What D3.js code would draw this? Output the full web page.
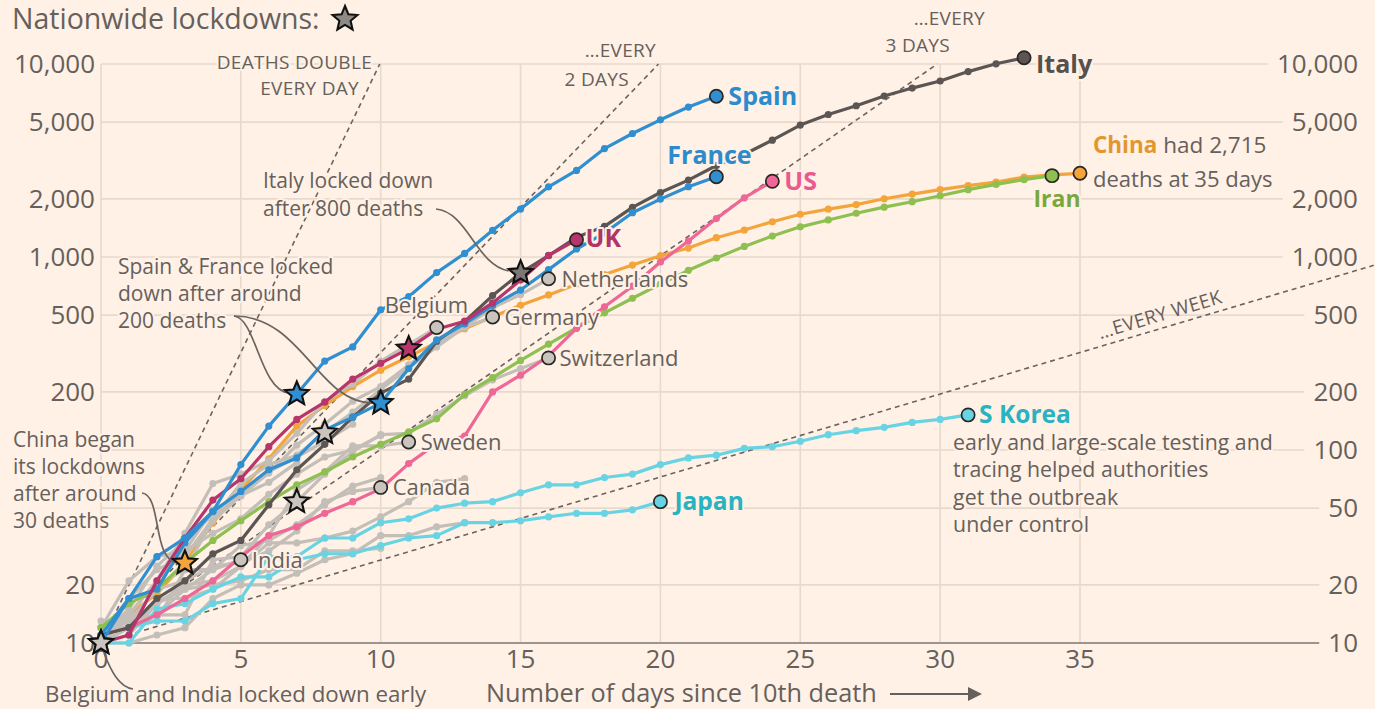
<!DOCTYPE html>
<html><head><meta charset="utf-8">
<script src="https://cdn.jsdelivr.net/npm/d3@7"></script>
<style>
html,body{margin:0;padding:0;background:#fff1e5;}
svg{display:block;font-family:"Open Sans",sans-serif;}
</style></head><body>
<svg id="c" width="1375" height="709"></svg>
<script>
// ---------------- DATA (cumulative deaths by days since 10th death) ----------------
const dayTicks = [0, 5, 10, 15, 20, 25, 30, 35];
const valueTicks = [10, 20, 50, 100, 200, 500, 1000, 2000, 5000, 10000];
const leftHiddenTicks = [50, 100]; // covered by the China annotation on the left

const spain = [10, 17, 28, 35, 48, 84, 133, 195, 289, 342, 533, 623, 830, 1043, 1375, 1772, 2311, 2808, 3647, 4365, 5138, 5982, 6803];
const france = [11, 17, 19, 33, 48, 61, 79, 91, 127, 148, 175, 264, 372, 450, 562, 674, 860, 1100, 1331, 1696, 1995, 2314, 2606];
const italy = [11, 12, 17, 21, 29, 34, 52, 79, 107, 148, 197, 233, 366, 463, 631, 827, 1016, 1266, 1441, 1809, 2158, 2503, 2978, 3405, 4032, 4825, 5476, 6077, 6820, 7503, 8165, 9134, 10023, 10779];
const uk = [10, 11, 21, 35, 55, 71, 104, 144, 177, 233, 281, 335, 422, 465, 578, 759, 1019, 1228];
const us = [11, 12, 14, 17, 21, 28, 36, 40, 47, 54, 63, 85, 108, 118, 200, 244, 307, 427, 552, 706, 942, 1209, 1581, 2026, 2467];
const china = [10, 14, 18, 26, 42, 62, 90, 133, 170, 213, 259, 304, 361, 425, 490, 562, 636, 722, 811, 908, 1016, 1113, 1259, 1380, 1523, 1665, 1770, 1868, 2004, 2118, 2236, 2345, 2442, 2592, 2663, 2715];
const iran = [12, 16, 19, 26, 34, 43, 54, 66, 77, 92, 107, 124, 145, 194, 237, 291, 354, 429, 514, 611, 724, 853, 988, 1135, 1284, 1433, 1556, 1685, 1812, 1934, 2077, 2234, 2378, 2517, 2640];
const skorea = [11, 12, 13, 13, 16, 17, 28, 28, 35, 35, 42, 44, 50, 53, 54, 60, 66, 66, 72, 75, 84, 91, 94, 102, 104, 111, 120, 126, 131, 139, 144, 152];
const japan = [10, 10, 15, 16, 19, 22, 22, 27, 29, 29, 32, 35, 36, 42, 42, 43, 45, 47, 47, 49, 54];
const netherlands = [10, 12, 20, 24, 43, 58, 76, 106, 136, 179, 213, 276, 356, 434, 546, 639, 771];
const germany = [11, 17, 24, 28, 44, 67, 84, 94, 123, 157, 206, 267, 342, 433, 489];
const switzerland = [11, 13, 14, 14, 27, 28, 41, 54, 75, 98, 120, 122, 153, 191, 231, 264, 300];
const belgium = [10, 14, 21, 37, 67, 75, 88, 122, 178, 220, 289, 353, 431];
const sweden = [10, 11, 16, 20, 21, 25, 36, 62, 77, 105, 105, 110];
const canada = [12, 13, 19, 21, 25, 26, 30, 38, 54, 61, 64];
const india = [10, 12, 16, 19, 24, 27];
// unlabelled countries (grey)
const otherA = [12, 12, 17, 17, 19, 25, 33, 33, 35, 38, 45, 54, 68, 71];
const otherB = [10, 10, 11, 12, 17, 20, 20, 23, 27, 29, 36, 36, 40, 42];
const otherC = [12, 14, 21, 30, 37, 44, 59, 75, 92, 100, 119];
const otherD = [11, 15, 25, 34, 46, 59, 77, 92, 111, 136];
const otherE = [13, 13, 13, 24, 24, 32, 34, 41, 52, 65, 72];
const otherF = [12, 21, 28, 30, 49, 58, 68, 86];
const otherG = [10, 12, 14, 19, 20, 21, 24, 24, 30, 30, 31];

// lockdown day (index into the series) per country
const lockdownCountries = ["Belgium", "India", "China", "Spain", "Switzerland", "Germany", "France", "UK", "Italy"];
const lockdownDays = [0, 0, 3, 7, 7, 8, 10, 11, 15];

// doubling reference lines (days to double)
const doublingPeriods = [1, 2, 3, 7];

// ---------------- STYLE ----------------
const C = {
  bg: "#fff1e5", grid: "#e7d9cc", text: "#66605c", axis: "#9b948f",
  gray: "#c4beb8", grayFill: "#c9c4be", dark: "#2a2624",
  italy: "#5b5653", blue: "#2f8fd1", uk: "#b8356b", us: "#ee6797",
  china: "#f3a43b", iran: "#8dc050", cyan: "#68d4e3"
};
const LC = { italy: "#56514e", blue: "#2b8bcd", uk: "#b23467", us: "#ea5a90", china: "#e3962f", iran: "#78a73d", cyan: "#27b3c1" };

const series = [
  {name: "China", v: china, color: C.china, kind: "main"},
  {name: "otherA", v: otherA, color: C.gray, kind: "other"},
  {name: "otherB", v: otherB, color: C.gray, kind: "other"},
  {name: "otherC", v: otherC, color: C.gray, kind: "other"},
  {name: "otherD", v: otherD, color: C.gray, kind: "other"},
  {name: "otherE", v: otherE, color: C.gray, kind: "other"},
  {name: "otherF", v: otherF, color: C.gray, kind: "other"},
  {name: "otherG", v: otherG, color: C.gray, kind: "other"},
  {name: "India", v: india, color: C.gray, kind: "grey"},
  {name: "Canada", v: canada, color: C.gray, kind: "grey"},
  {name: "Sweden", v: sweden, color: C.gray, kind: "grey"},
  {name: "Switzerland", v: switzerland, color: C.gray, kind: "grey"},
  {name: "Germany", v: germany, color: C.gray, kind: "grey"},
  {name: "Belgium", v: belgium, color: C.gray, kind: "grey"},
  {name: "Netherlands", v: netherlands, color: C.gray, kind: "grey"},
  {name: "Japan", v: japan, color: C.cyan, kind: "main"},
  {name: "S Korea", v: skorea, color: C.cyan, kind: "main"},
  {name: "Iran", v: iran, color: C.iran, kind: "main"},
  {name: "US", v: us, color: C.us, kind: "main"},
  {name: "Italy", v: italy, color: C.italy, kind: "main"},
  {name: "France", v: france, color: C.blue, kind: "main"},
  {name: "UK", v: uk, color: C.uk, kind: "main"},
  {name: "Spain", v: spain, color: C.blue, kind: "main"}
];
const byName = {};
series.forEach(s => byName[s.name] = s);

// ---------------- SCALES ----------------
const W = 1375, H = 709;
const x = d3.scaleLinear().domain([0, 35]).range([101, 1080]);
const y = d3.scaleLog().domain([10, 10000]).range([643, 64]);
const svg = d3.select("#c");
svg.append("rect").attr("width", W).attr("height", H).attr("fill", C.bg);

const gGrid = svg.append("g");
const gAxis = svg.append("g");

const rightX = 1358, leftX = 95;
const tickFont = 26;
const rl = gAxis.selectAll("text.r").data(valueTicks).join("text")
  .attr("x", rightX).attr("y", d => y(d) + 9).attr("text-anchor", "end")
  .attr("font-size", tickFont).attr("fill", C.text).text(d => d3.format(",")(d));
const widths = {};
rl.each(function(d){ widths[d] = this.getComputedTextLength(); });

gAxis.selectAll("text.l").data(valueTicks.filter(v => !leftHiddenTicks.includes(v))).join("text")
  .attr("x", leftX).attr("y", d => y(d) + 9).attr("text-anchor", "end")
  .attr("font-size", tickFont).attr("fill", C.text).text(d => d3.format(",")(d));

gAxis.selectAll("text.b").data(dayTicks).join("text")
  .attr("x", d => x(d)).attr("y", 668).attr("text-anchor", "middle")
  .attr("font-size", tickFont).attr("fill", C.text).text(d => d);

// gridlines
gGrid.selectAll("line.h").data(valueTicks.filter(v => v > 10)).join("line")
  .attr("x1", x(0)).attr("x2", d => rightX - widths[d] - 9)
  .attr("y1", d => y(d)).attr("y2", d => y(d))
  .attr("stroke", C.grid).attr("stroke-width", 1.6);
gGrid.selectAll("line.v").data(dayTicks).join("line")
  .attr("x1", d => x(d)).attr("x2", d => x(d))
  .attr("y1", y(10000)).attr("y2", y(10))
  .attr("stroke", C.grid).attr("stroke-width", 1.6);
gGrid.append("line").attr("x1", x(0)).attr("x2", rightX - widths[10] - 9)
  .attr("y1", y(10)).attr("y2", y(10)).attr("stroke", C.axis).attr("stroke-width", 2);

// doubling reference lines
const refEnd = p => p === 7 ? 45.5 : p * Math.log2(1000);
const gRef = svg.append("g");
doublingPeriods.forEach(p => {
  const d1 = refEnd(p);
  gRef.append("line")
    .attr("x1", x(0)).attr("y1", y(10))
    .attr("x2", x(d1)).attr("y2", y(10 * Math.pow(2, d1 / p)))
    .attr("stroke", "#6a6360").attr("stroke-width", 1.6).attr("stroke-dasharray", "5,4");
});

// series lines
const line = d3.line().x((d, i) => x(i)).y(d => y(d));
const gLines = svg.append("g");
series.forEach(s => {
  gLines.append("path").attr("d", line(s.v)).attr("fill", "none")
    .attr("stroke", s.color).attr("stroke-width", 3.2)
    .attr("stroke-linejoin", "round").attr("stroke-linecap", "round");
  gLines.selectAll(null).data(s.v).join("circle")
    .attr("cx", (d, i) => x(i)).attr("cy", d => y(d)).attr("r", 3.6)
    .attr("fill", s.color);
});

// end circles
const gEnd = svg.append("g");
series.filter(s => s.kind !== "other").forEach(s => {
  const n = s.v.length - 1;
  gEnd.append("circle").attr("cx", x(n)).attr("cy", y(s.v[n])).attr("r", 6.6)
    .attr("fill", s.kind === "grey" ? C.grayFill : s.color)
    .attr("stroke", C.dark).attr("stroke-width", 1.7);
});

// stars
function starPath(cx, cy, R) {
  const r = R * 0.45, p = [];
  for (let i = 0; i < 10; i++) {
    const a = -Math.PI / 2 + i * Math.PI / 5, rr = i % 2 ? r : R;
    p.push([cx + rr * Math.cos(a), cy + rr * Math.sin(a)]);
  }
  return "M" + p.map(q => q[0].toFixed(1) + "," + q[1].toFixed(1)).join("L") + "Z";
}
const starFill = s => s.kind === "grey" ? C.grayFill : (s.name === "Italy" ? "#7c7774" : s.color);
const gStar = svg.append("g");
lockdownCountries.forEach((c, i) => {
  const s = byName[c], d = lockdownDays[i];
  gStar.append("path").attr("d", starPath(x(d), y(s.v[d]), 12.5))
    .attr("fill", starFill(s)).attr("stroke", "#111").attr("stroke-width", 2.1)
    .attr("stroke-linejoin", "miter");
});

// ---------------- TEXT ----------------
const gTxt = svg.append("g");
function txt(xp, yp, str, opt = {}) {
  const t = gTxt.append("text").attr("x", xp).attr("y", yp)
    .attr("font-size", opt.size || 20).attr("fill", opt.color || C.text)
    .attr("font-weight", opt.bold ? 700 : 400)
    .attr("text-anchor", opt.anchor || "start");
  if (opt.halo !== false) t.attr("stroke", C.bg).attr("stroke-width", opt.haloW || 4).attr("paint-order", "stroke").attr("stroke-linejoin", "round");
  if (opt.ls) t.attr("letter-spacing", opt.ls);
  if (opt.rotate) t.attr("transform", `rotate(${opt.rotate},${xp},${yp})`);
  t.text(str);
  return t;
}
function endPt(name) { const s = byName[name], n = s.v.length - 1; return [x(n), y(s.v[n])]; }

// country end labels
let p;
p = endPt("Spain"); txt(p[0] + 12, p[1] + 9, "Spain", {bold: true, size: 25, color: LC.blue});
p = endPt("France"); txt(p[0] - 49, p[1] - 13, "France", {bold: true, size: 25, color: LC.blue});
p = endPt("US"); txt(p[0] + 12, p[1] + 9, "US", {bold: true, size: 25, color: LC.us});
p = endPt("UK"); txt(p[0] + 9, p[1] + 7, "UK", {bold: true, size: 25, color: LC.uk});
p = endPt("Italy"); txt(p[0] + 12, p[1] + 15, "Italy", {bold: true, size: 25, color: LC.italy});
p = endPt("Iran"); txt(p[0] + 5, p[1] + 31, "Iran", {bold: true, size: 23, color: LC.iran, anchor: "middle"});
p = endPt("S Korea"); txt(p[0] + 11, p[1] + 8, "S Korea", {bold: true, size: 24.5, color: LC.cyan});
p = endPt("Japan"); txt(p[0] + 14, p[1] + 8, "Japan", {bold: true, size: 24.5, color: LC.cyan});
p = endPt("Netherlands"); txt(p[0] + 13, p[1] + 8, "Netherlands", {size: 22});
p = endPt("Germany"); txt(p[0] + 12, p[1] + 8, "Germany", {size: 22});
p = endPt("Switzerland"); txt(p[0] + 11, p[1] + 8, "Switzerland", {size: 22});
p = endPt("Sweden"); txt(p[0] + 12, p[1] + 8, "Sweden", {size: 22});
p = endPt("Canada"); txt(p[0] + 12, p[1] + 8, "Canada", {size: 22});
p = endPt("India"); txt(p[0] + 11, p[1] + 8, "India", {size: 22});
p = endPt("Belgium"); txt(p[0] - 52, p[1] - 15, "Belgium", {size: 22});

// China note
p = endPt("China");
const ct = txt(p[0] + 13, p[1] - 20, "", {size: 22.5});
ct.append("tspan").attr("font-weight", 700).attr("fill", LC.china).text("China");
ct.append("tspan").text(" had 2,715");
txt(p[0] + 13, p[1] + 14, "deaths at 35 days", {size: 22});

// S Korea note
p = endPt("S Korea");
["early and large-scale testing and", "tracing helped authorities", "get the outbreak", "under control"]
  .forEach((s, i) => txt(p[0] - 15, p[1] + 35 + i * 27.5, s, {size: 21.3}));

// title
txt(12, 29, "Nationwide lockdowns:", {size: 28.5, halo: false});
svg.append("path").attr("d", starPath(345, 19, 13)).attr("fill", "#8e8a86")
  .attr("stroke", "#111").attr("stroke-width", 2.1);

// reference line labels
const rlab = {size: 19, ls: 0.3, anchor: "end"};
txt(372, 69, "DEATHS DOUBLE", rlab);
txt(359, 95, "EVERY DAY", rlab);
txt(656, 57, "…EVERY", rlab);
txt(629, 86, "2 DAYS", rlab);
txt(985, 25, "…EVERY", rlab);
txt(950, 52, "3 DAYS", rlab);
{
  const da = 35.8, db = 40;
  const xa = x(da), ya = y(10 * Math.pow(2, da / 7));
  const ang = Math.atan2(y(10 * Math.pow(2, db / 7)) - ya, x(db) - xa) * 180 / Math.PI;
  const off = 7, rad = ang * Math.PI / 180;
  const tx = xa + off * Math.sin(rad), ty = ya - off * Math.cos(rad);
  txt(tx, ty, "…EVERY WEEK", {size: 19, ls: 0.3, rotate: ang, halo: false});
}

// annotations
txt(263, 188, "Italy locked down", {size: 21});
txt(263, 216, "after 800 deaths", {size: 21});
["Spain & France locked", "down after around", "200 deaths"].forEach((s, i) => txt(118, 274 + i * 27, s, {size: 21}));
["China began", "its lockdowns", "after around", "30 deaths"].forEach((s, i) => txt(13, 447 + i * 27, s, {size: 21}));
txt(45, 702, "Belgium and India locked down early", {size: 22.3});

// x axis title + arrow
txt(486, 702, "Number of days since 10th death", {size: 25.3});
svg.append("line").attr("x1", 890).attr("x2", 970).attr("y1", 694).attr("y2", 694)
  .attr("stroke", C.text).attr("stroke-width", 2);
svg.append("path").attr("d", "M968,687L982,694L968,701Z").attr("fill", C.text);

// connectors (anchored to stars computed from data)
const starPos = c => { const i = lockdownCountries.indexOf(c); const d = lockdownDays[i]; return [x(d), y(byName[c].v[d])]; };
const gCon = svg.insert("g", () => gStar.node());
function con(d) { gCon.append("path").attr("d", d).attr("fill", "none").attr("stroke", "#6b6562").attr("stroke-width", 1.7); }
let s1 = starPos("Italy");
con(`M436,209 C468,212 476,${s1[1] - 8} ${s1[0] - 12},${s1[1] - 2}`);
let sp = starPos("Spain"), fr = starPos("France");
con(`M234,316 C256,318 260,${sp[1] - 4} ${sp[0] - 8},${sp[1] - 1}`);
con(`M234,316 C302,316 318,${fr[1]} ${fr[0] - 8},${fr[1]}`);
let cs = starPos("China");
con(`M142,493 C162,495 152,${cs[1] - 4} ${cs[0] - 8},${cs[1]}`);
let bs = starPos("Belgium");
con(`M${bs[0] + 3},${bs[1] + 10} C${bs[0] + 10},${bs[1] + 28} ${bs[0] + 18},${bs[1] + 44} ${bs[0] + 32},${bs[1] + 46}`);
</script>
</body></html>
